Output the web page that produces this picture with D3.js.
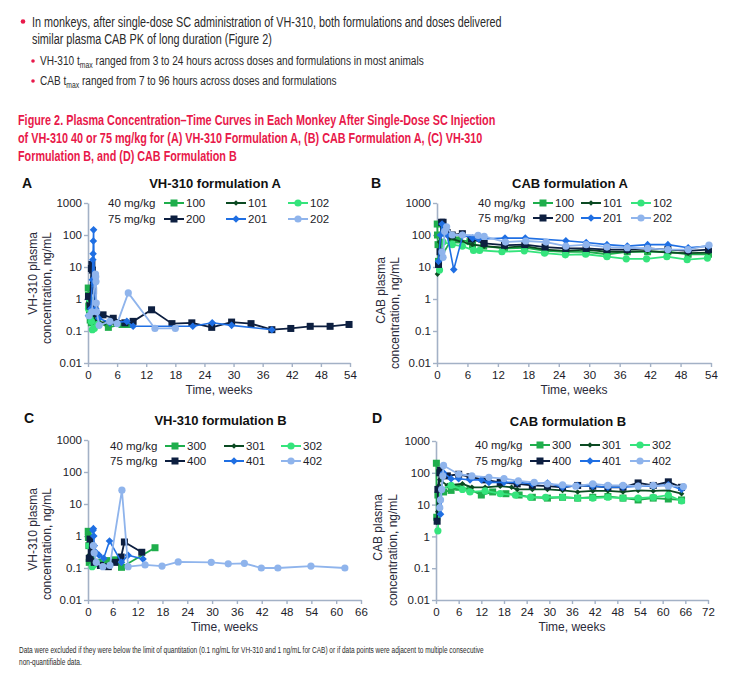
<!DOCTYPE html>
<html><head><meta charset="utf-8">
<script src="https://cdn.jsdelivr.net/npm/d3@7"></script>
<style>body{margin:0;background:#fff}svg{display:block}</style>
</head><body>
<svg id="c" width="736" height="688"></svg>
<script>
// ---------- DATA ----------
const ids40A = ["100","101","102"], ids75A = ["200","201","202"];
const ids40B = ["300","301","302"], ids75B = ["400","401","402"];
const yTicks = [0.01, 0.1, 1, 10, 100, 1000];
const xTicks54 = d3.range(0, 55, 6), xTicks66 = d3.range(0, 67, 6), xTicks72 = d3.range(0, 73, 6);

// Panel A: VH-310 formulation A  [week, ng/mL]
const A_100 = [[0.05,2.2],[0.1,1.3],[0.15,0.6],[0.3,0.35],[0.45,0.22],[0.7,0.18],[1.0,0.2],[2.0,0.2],[4.2,0.13],[7.0,0.16],[8.3,0.16]];
const A_101 = [[0.1,0.8],[0.3,1.3],[0.5,0.6],[0.8,0.35],[1.2,0.25],[2,0.2],[3.5,0.18],[5.5,0.17]];
const A_102 = [[0.1,0.5],[0.3,1.0],[0.5,0.3],[0.7,0.2],[0.9,0.11],[1.3,0.12],[2,0.16]];
const A_200 = [[0.1,1.2],[0.4,0.6],[0.7,9],[0.8,12],[0.9,8],[1.15,1.8],[1.4,0.6],[1.7,0.35],[3.1,0.32],[5.2,0.25],[7.6,0.18],[9.3,0.2],[13.1,0.46],[17.3,0.17],[21.4,0.18],[25.5,0.13],[29.6,0.19],[33.6,0.17],[37.9,0.11],[41.8,0.12],[45.8,0.14],[49.9,0.14],[53.8,0.16]];
const A_201 = [[0.1,0.3],[0.6,0.5],[0.9,4],[1.0,17],[1.05,26],[1.1,65],[1.15,145],[1.3,3],[1.6,0.5],[2.2,0.25],[4.5,0.18],[8.0,0.2],[9.3,0.14],[21.6,0.14],[25.6,0.18],[29.6,0.15],[37.9,0.11]];
const A_202 = [[0.2,0.3],[0.8,0.4],[1.55,6],[1.6,5],[1.65,3.5],[1.7,0.75],[1.8,0.4],[2.3,0.15],[4.5,0.2],[6,0.17],[8.3,1.55],[13.8,0.12],[18,0.12]];

// Panel B: CAB formulation A
const B_100 = [[0.05,220],[0.1,100],[0.2,50],[0.3,15],[3,80],[4.2,70],[6.5,62],[7,50],[9.2,45],[13.3,38],[17.3,40],[21.3,32],[25.4,30],[29.4,30],[33.5,25],[37.5,30],[41.5,30],[45.5,30],[49.5,25],[53.5,25]];
const B_101 = [[0.1,6],[0.3,15],[0.5,60],[0.9,200],[1.5,100],[2.5,80],[5,60],[7,50],[9.3,45],[13.3,40],[17.3,45],[21.3,35],[25.4,32],[29.4,35],[33.5,30],[37.5,30],[41.5,32],[45.5,28],[49.5,27],[53.5,28]];
const B_102 = [[0.5,8],[0.8,30],[1.2,60],[3,50],[5,45],[7.2,33],[8.4,33],[12.8,30],[17.2,32],[21.2,27],[25.3,24],[29.3,25],[33.5,21],[37.3,18],[41.3,18],[45.3,21],[49.3,17],[53.3,19]];
const B_200 = [[0.3,12],[0.6,30],[0.9,250],[1.2,250],[2,120],[3,100],[5,110],[6.8,75],[9.3,55],[13.3,48],[17.3,50],[21.3,42],[25.4,38],[29.4,38],[33.5,35],[37.5,35],[41.5,38],[45.5,35],[49.5,32],[53.5,35]];
const B_201 = [[0.3,15],[0.7,100],[1.0,220],[1.5,150],[2,100],[3.3,8.3],[5.1,100],[7,80],[8.2,75],[13.4,80],[17.4,80],[25.4,66],[29.4,58],[33.5,50],[37.5,45],[41.5,50],[45.5,50],[49.5,40],[53.5,45]];
const B_202 = [[1.0,30],[1.2,20],[1.5,130],[1.9,180],[3,100],[5,100],[8.1,97],[9.3,90],[13.5,60],[17.5,65],[21.5,60],[25.4,45],[29.4,50],[33.5,42],[37.5,40],[41.5,38],[45.5,35],[49.5,35],[53.6,48]];

// Panel C: VH-310 formulation B
const C_300 = [[0.05,1.4],[0.1,0.9],[0.2,0.5],[0.3,0.15],[1,0.2],[2.5,0.15],[4.5,0.17],[6.5,0.18],[8.1,0.105],[16.2,0.43]];
const C_301 = [[0.2,0.25],[0.5,0.4],[1,0.2],[2,0.15]];
const C_302 = [[0.3,0.5],[0.7,0.2],[1.0,0.11],[1.5,0.13]];
const C_400 = [[0.3,0.2],[0.5,0.8],[0.8,0.3],[1.5,0.15],[3,0.12],[4.9,0.11],[6.5,0.15],[8,0.22],[8.8,0.65],[13,0.31]];
const C_401 = [[1.2,1.5],[1.3,1.7],[1.4,1.0],[1.5,0.5],[2,0.3],[2.7,0.25],[3.8,0.2],[5.2,0.7],[8.1,0.15],[9.7,0.25],[13.3,0.19]];
const C_402 = [[1.3,0.5],[1.5,0.3],[2,0.15],[3.6,0.11],[5.3,0.12],[8.2,27],[9.7,0.11],[13.8,0.125],[17.9,0.115],[21.8,0.155],[29.8,0.15],[33.9,0.135],[37.8,0.14],[41.9,0.1],[45.9,0.1],[53.9,0.115],[62.1,0.1]];

// Panel D: CAB formulation B
const D_300 = [[0.1,200],[0.2,4],[0.5,20],[2,25],[4,28],[6,35],[9,30],[12,20],[15,25],[18.5,22],[22,20],[25.5,17],[29.5,16],[33.5,17],[37.5,16],[41.5,17],[45.5,18],[49.5,16],[53.5,14],[57.5,16],[61.5,15],[65,14]];
const D_301 = [[0.2,2.8],[0.5,6],[0.8,40],[1,60],[3,40],[7,45],[9.5,35],[13,35],[17,38],[20,35],[21.5,30],[25.5,30],[29.5,30],[33.5,28],[37.5,25],[41.5,27],[45.5,27],[49.5,25],[53.5,28],[57.5,27],[61.5,28],[65,22]];
const D_302 = [[0.5,1.5],[1,30],[4,40],[7,30],[9,25],[13,27],[17,22],[21,20],[25,17],[29,17],[33.5,17],[37.5,16],[41.5,16],[45.5,17],[49.5,16],[53.5,16],[57.5,17],[61.5,20],[65,13]];
const D_400 = [[0.3,3],[0.5,30],[1,100],[1.2,120],[3,80],[6,90],[9,75],[13,60],[17,50],[21.5,45],[25.5,40],[29.5,38],[33.5,35],[37.5,40],[41.5,38],[45.5,35],[49.5,35],[53.5,48],[57.5,40],[61.5,52],[65,35]];
const D_401 = [[1.2,5],[1.5,30],[2,100],[4,65],[6,65],[9,60],[12,60],[14,50],[18,50],[21.5,50],[25.5,45],[29.5,48],[33.5,35],[37.5,40],[41.5,38],[45.5,35],[49.5,35],[53.5,38],[57.5,38],[61.5,42],[65,30]];
const D_402 = [[1,8],[1.2,14],[1.5,30],[1.8,80],[2,170],[6,90],[9.5,80],[14,72],[18,66],[21.8,56],[26,50],[29.5,45],[33.5,42],[37,38],[41.5,45],[45.5,40],[49.5,40],[53.5,38],[57.5,40],[61.5,38],[65.5,37]];

// ---------- STYLE ----------
const colors = ["#1fae4c", "#0b4a22", "#35e47c", "#0d1f40", "#1f6fe3", "#8fb4ec"];
const shapes = ["square", "diamondS", "circle", "square", "diamond", "circle"];
const RED = "#e8194a", TXT = "#2a2a2a", AXIS = "#a3b1c6";
const FONT = "'Liberation Sans', Arial, sans-serif";

const svg = d3.select("#c");

// ---------- TOP TEXT ----------
function fitText(x, y, w, size, weight, fill, parts) {
  const g = svg.append("g");
  const t = g.append("text").attr("x", 0).attr("y", 0)
    .attr("font-family", FONT).attr("font-size", size).attr("font-weight", weight).attr("fill", fill);
  parts.forEach(p => {
    const s = t.append("tspan").text(p.t);
    if (p.sub) s.attr("font-size", size * 0.68).attr("dy", size * 0.25);
    else if (p.after) s.attr("dy", -size * 0.25);
  });
  const len = t.node().getComputedTextLength();
  g.attr("transform", `translate(${x},${y}) scale(${w / len},1)`);
  return g;
}
function bullet(x, y, r) { svg.append("circle").attr("cx", x).attr("cy", y).attr("r", r).attr("fill", RED); }

bullet(23, 21.5, 2.3);
fitText(32, 27, 470, 15, "normal", TXT, [{t:"In monkeys, after single-dose SC administration of VH-310, both formulations and doses delivered"}]);
fitText(32, 44, 240, 15, "normal", TXT, [{t:"similar plasma CAB PK of long duration (Figure 2)"}]);
bullet(33, 61, 1.8);
fitText(40, 65, 384, 13.5, "normal", TXT, [{t:"VH-310 t"},{t:"max",sub:true},{t:" ranged from 3 to 24 hours across doses and formulations in most animals",after:true}]);
bullet(33, 81, 1.8);
fitText(40, 85, 297, 13.5, "normal", TXT, [{t:"CAB t"},{t:"max",sub:true},{t:" ranged from 7 to 96 hours across doses and formulations",after:true}]);

fitText(18, 125, 478, 15.5, "bold", RED, [{t:"Figure 2. Plasma Concentration\u2013Time Curves in Each Monkey After Single-Dose SC Injection"}]);
fitText(18, 143, 465, 15.5, "bold", RED, [{t:"of VH-310 40 or 75 mg/kg for (A) VH-310 Formulation A, (B) CAB Formulation A, (C) VH-310"}]);
fitText(18, 161, 219, 15.5, "bold", RED, [{t:"Formulation B, and (D) CAB Formulation B"}]);

fitText(19, 653, 466, 9.5, "normal", TXT, [{t:"Data were excluded if they were below the limit of quantitation (0.1 ng/mL for VH-310 and 1 ng/mL for CAB) or if data points were adjacent to multiple consecutive"}]);
fitText(19, 665, 63, 9.5, "normal", TXT, [{t:"non-quantifiable data."}]);

// ---------- PANELS ----------
const panels = [
  {letter:"A", title:"VH-310 formulation A", ytitle:"VH-310 plasma", l:88, r:350, t:203, b:363, xmax:54, xt:xTicks54,
   ids:[ids40A, ids75A], data:[A_100,A_101,A_102,A_200,A_201,A_202], lg:{x:108, cols:[164,226,288], y:[203,219]},
   yt:{x1:33, x2:47, end:232}, lx:22, ly:188},
  {letter:"B", title:"CAB formulation A", ytitle:"CAB plasma", l:437, r:711, t:203, b:363, xmax:54, xt:xTicks54,
   ids:[ids40A, ids75A], data:[B_100,B_101,B_102,B_200,B_201,B_202], lg:{x:478, cols:[533,581,631], y:[203,218]},
   yt:{x1:381, x2:395, end:257}, lx:371, ly:188},
  {letter:"C", title:"VH-310 formulation B", ytitle:"VH-310 plasma", l:88, r:361, t:440, b:600, xmax:66, xt:xTicks66,
   ids:[ids40B, ids75B], data:[C_300,C_301,C_302,C_400,C_401,C_402], lg:{x:110, cols:[165,224,281], y:[446,461]},
   yt:{x1:33, x2:47, end:488}, lx:24, ly:423},
  {letter:"D", title:"CAB formulation B", ytitle:"CAB plasma", l:436, r:708, t:441, b:600, xmax:72, xt:xTicks72,
   ids:[ids40B, ids75B], data:[D_300,D_301,D_302,D_400,D_401,D_402], lg:{x:475, cols:[530,580,630], y:[445,461]},
   yt:{x1:378, x2:393, end:494}, lx:372, ly:423}
];

function marker(g, shape, x, y, color) {
  if (shape === "square") g.append("rect").attr("x", x-3.5).attr("y", y-3.5).attr("width", 7).attr("height", 7).attr("fill", color);
  else if (shape === "circle") g.append("circle").attr("cx", x).attr("cy", y).attr("r", 3.6).attr("fill", color);
  else {
    const s = shape === "diamond" ? 3.8 : 2.8;
    g.append("path").attr("d", `M${x},${y-s}L${x+s},${y}L${x},${y+s}L${x-s},${y}Z`).attr("fill", color);
  }
}

panels.forEach(p => {
  const x = d3.scaleLinear().domain([0, p.xmax]).range([p.l, p.r]);
  const y = d3.scaleLog().domain([0.01, 1000]).range([p.b, p.t]);
  const g = svg.append("g");

  const ya = g.append("g").attr("transform", `translate(${p.l},0)`)
    .call(d3.axisLeft(y).tickValues(yTicks).tickFormat(d => String(d)).tickSize(4).tickSizeOuter(0));
  const xa = g.append("g").attr("transform", `translate(0,${p.b})`)
    .call(d3.axisBottom(x).tickValues(p.xt).tickFormat(d3.format("d")).tickSize(4).tickSizeOuter(0));
  [ya, xa].forEach(a => {
    a.select(".domain").attr("stroke", AXIS).attr("stroke-width", 1.6);
    a.selectAll(".tick line").attr("stroke", AXIS).attr("stroke-width", 1.4);
    a.selectAll("text").attr("font-family", FONT).attr("font-size", 11.5).attr("fill", "#1c1c28");
  });
  ya.selectAll("text").attr("x", -6);
  xa.selectAll("text").attr("y", 8);

  g.append("text").attr("x", p.lx).attr("y", p.ly).attr("font-family", FONT).attr("font-weight", "bold")
    .attr("font-size", 14).attr("fill", "#111").text(p.letter);
  g.append("text").attr("x", (p.l + p.r) / 2 - 4).attr("y", p.t - 15).attr("text-anchor", "middle")
    .attr("font-family", FONT).attr("font-weight", "bold").attr("font-size", 13).attr("fill", "#111").text(p.title);
  g.append("text").attr("x", (p.l + p.r) / 2).attr("y", p.b + 31).attr("text-anchor", "middle")
    .attr("font-family", FONT).attr("font-size", 12).attr("fill", "#2a2a3a").text("Time, weeks");
  [[p.yt.x1, p.ytitle], [p.yt.x2, "concentration, ng/mL"]].forEach(([xx, s]) => {
    g.append("text").attr("transform", `translate(${xx + 4},${p.yt.end}) rotate(-90)`)
      .attr("text-anchor", "end").attr("font-family", FONT).attr("font-size", 12).attr("fill", "#2a2a3a").text(s);
  });

  const line = d3.line().x(d => x(d[0])).y(d => y(d[1]));
  p.data.forEach((ser, i) => {
    const sg = g.append("g");
    sg.append("path").attr("d", line(ser)).attr("fill", "none").attr("stroke", colors[i])
      .attr("stroke-width", i === 4 ? 1.6 : 1.8).attr("stroke-linejoin", "round");
    ser.forEach(d => marker(sg, shapes[i], x(d[0]), y(d[1]), colors[i]));
  });

  const lg = g.append("g");
  ["40 mg/kg", "75 mg/kg"].forEach((s, row) => {
    lg.append("text").attr("x", p.lg.x).attr("y", p.lg.y[row] + 4).attr("font-family", FONT)
      .attr("font-size", 11.5).attr("fill", "#1c1c28").text(s);
    p.ids[row].forEach((id, c) => {
      const i = row * 3 + c, x0 = p.lg.cols[c], yy = p.lg.y[row];
      lg.append("line").attr("x1", x0).attr("x2", x0 + 20).attr("y1", yy).attr("y2", yy)
        .attr("stroke", colors[i]).attr("stroke-width", 2);
      marker(lg, shapes[i], x0 + 10, yy, colors[i]);
      lg.append("text").attr("x", x0 + 22).attr("y", yy + 4).attr("font-family", FONT)
        .attr("font-size", 11.5).attr("fill", "#1c1c28").text(id);
    });
  });
});
</script>
</body></html>
